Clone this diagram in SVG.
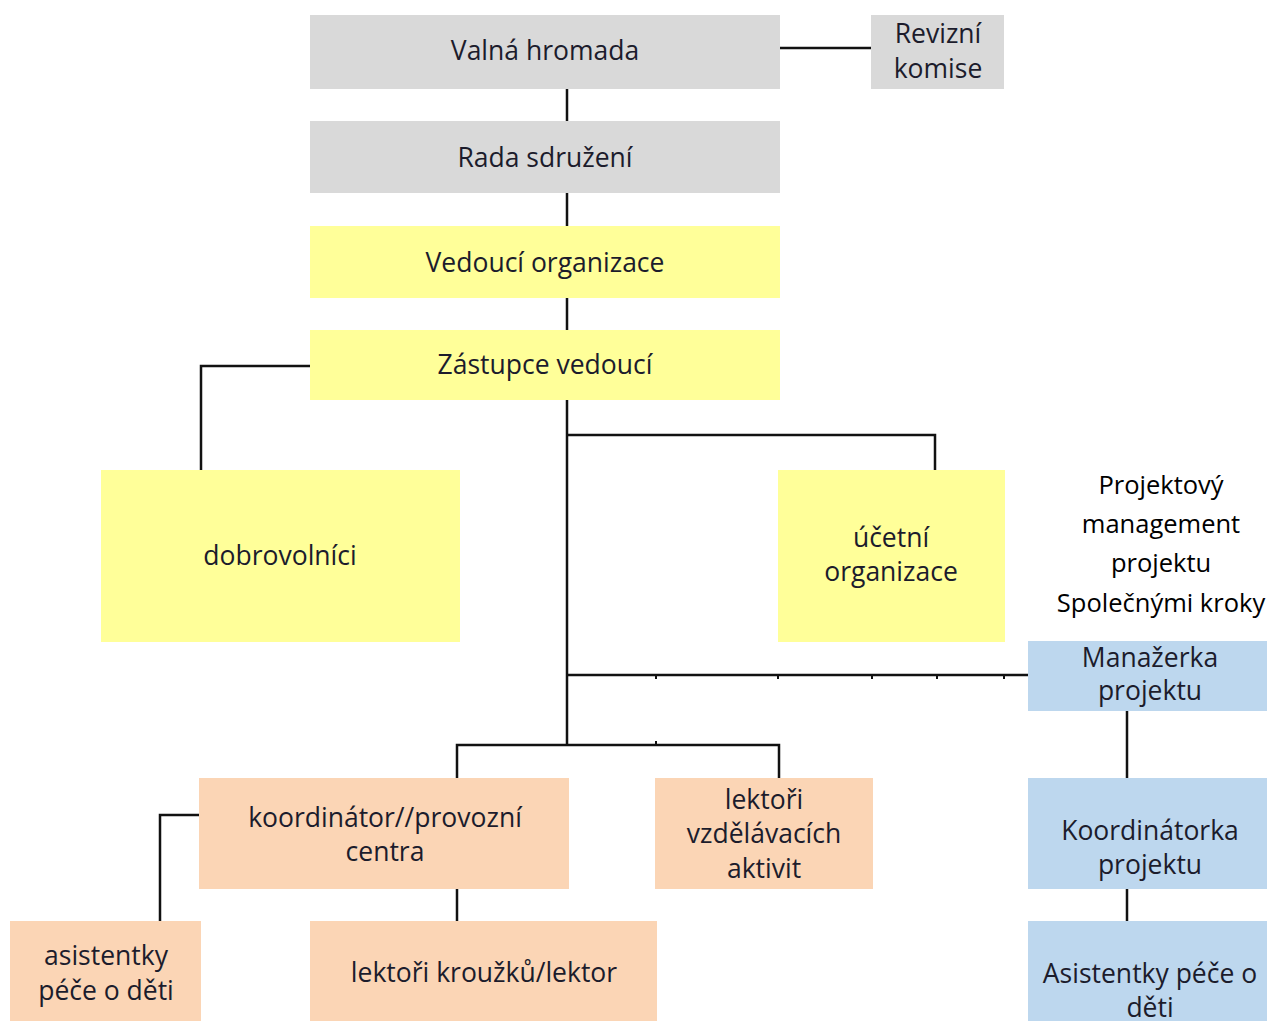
<svg xmlns="http://www.w3.org/2000/svg" width="1267" height="1021" viewBox="0 0 1267 1021">
<style>
.gray{fill:#d9d9d9}
.yellow{fill:#ffff99}
.orange{fill:#fbd5b5}
.blue{fill:#bdd7ee}
text{font-family:"Open Sans","Liberation Sans",sans-serif;font-size:26.5px;fill:#1c1c2c;text-anchor:middle}
.plain{fill:#000;font-size:25.5px}
.ln{stroke:#111;stroke-width:2.5;fill:none}
.tick{stroke:#111;stroke-width:2;fill:none}
</style>
<rect width="1267" height="1021" fill="#fff"/>
<g id="connectors">
<path class="ln" d="M780 48H873"/>
<path class="ln" d="M567 89V121M567 193V226M567 298V330M567 400V745"/>
<path class="ln" d="M310 366H201V470"/>
<path class="ln" d="M567 435H935V470"/>
<path class="ln" d="M567 675H1028"/>
<path class="tick" d="M656 675v4M778 675v4M872 675v4M937 675v4M1004 675v4M656 745v-4"/>
<path class="ln" d="M457 778V745H779V778"/>
<path class="ln" d="M199 815H160V921"/>
<path class="ln" d="M457 889V921"/>
<path class="ln" d="M1127 711V778M1127 889V921"/>
</g>
<g id="valna-hromada"><rect class="gray" x="310" y="15" width="470" height="74"/><text x="545" y="60">Valná hromada</text></g>
<g id="revizni-komise"><rect class="gray" x="871" y="15" width="133" height="74"/><text x="938" y="43">Revizní</text><text x="938" y="78">komise</text></g>
<g id="rada-sdruzeni"><rect class="gray" x="310" y="121" width="470" height="72"/><text x="545" y="167">Rada sdružení</text></g>
<g id="vedouci-organizace"><rect class="yellow" x="310" y="226" width="470" height="72"/><text x="545" y="272">Vedoucí organizace</text></g>
<g id="zastupce-vedouci"><rect class="yellow" x="310" y="330" width="470" height="70"/><text x="545" y="374">Zástupce vedoucí</text></g>
<g id="dobrovolnici"><rect class="yellow" x="101" y="470" width="359" height="172"/><text x="280" y="565">dobrovolníci</text></g>
<g id="ucetni-organizace"><rect class="yellow" x="778" y="470" width="227" height="172"/><text x="891" y="547">účetní</text><text x="891" y="581">organizace</text></g>
<g id="projektovy-management"><text class="plain" x="1161" y="494">Projektový</text><text class="plain" x="1161" y="533">management</text><text class="plain" x="1161" y="572">projektu</text><text class="plain" x="1161" y="612">Společnými kroky</text></g>
<g id="manazerka-projektu"><rect class="blue" x="1028" y="641" width="239" height="70"/><text x="1150" y="667">Manažerka</text><text x="1150" y="700">projektu</text></g>
<g id="koordinator-centra"><rect class="orange" x="199" y="778" width="370" height="111"/><text x="385" y="827">koordinátor//provozní</text><text x="385" y="861">centra</text></g>
<g id="lektori-vzdelavacich"><rect class="orange" x="655" y="778" width="218" height="111"/><text x="764" y="809">lektoři</text><text x="764" y="843">vzdělávacích</text><text x="764" y="878">aktivit</text></g>
<g id="koordinatorka-projektu"><rect class="blue" x="1028" y="778" width="239" height="111"/><text x="1150" y="840">Koordinátorka</text><text x="1150" y="874">projektu</text></g>
<g id="asistentky-pece"><rect class="orange" x="10" y="921" width="191" height="100"/><text x="106" y="965">asistentky</text><text x="106" y="1000">péče o děti</text></g>
<g id="lektori-krouzku"><rect class="orange" x="310" y="921" width="347" height="100"/><text x="484" y="982">lektoři kroužků/lektor</text></g>
<g id="asistentky-pece-projekt"><rect class="blue" x="1028" y="921" width="239" height="100"/><text x="1150" y="983">Asistentky péče o</text><text x="1150" y="1017">děti</text></g>
</svg>
